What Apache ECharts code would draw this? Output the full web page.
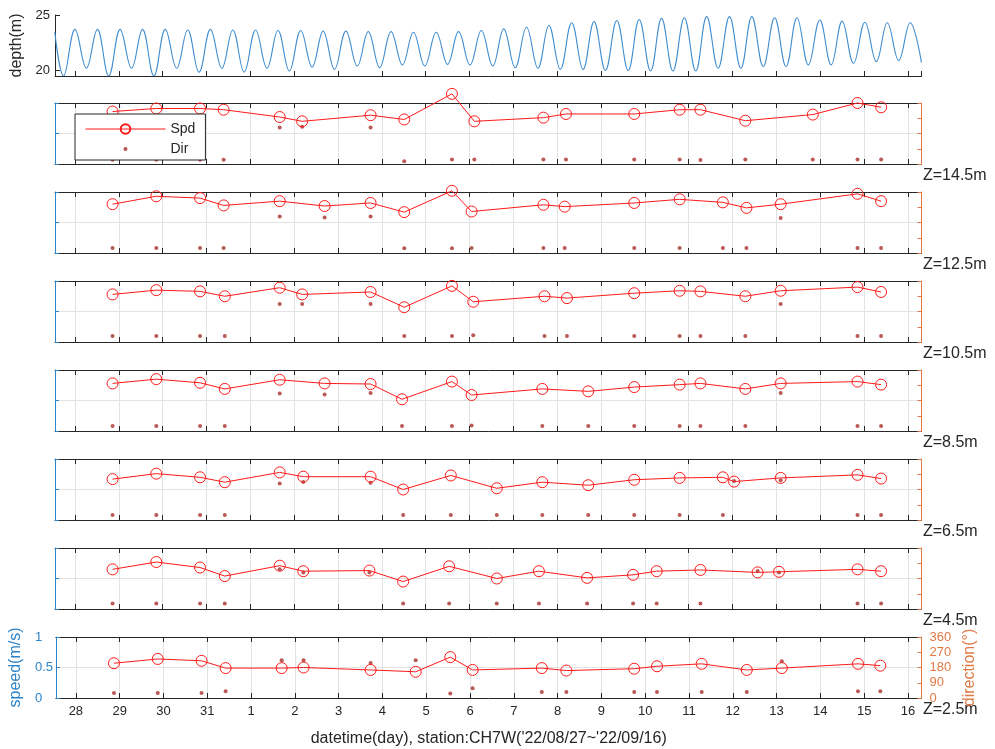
<!DOCTYPE html>
<html><head><meta charset="utf-8">
<script src="https://cdn.jsdelivr.net/npm/echarts@6/dist/echarts.min.js"></script>
<style>html,body{margin:0;padding:0;background:#fff}#c{width:995px;height:749px}</style>
</head><body><div id="c"></div>
<script>
// ---- time helpers: values are "day of August 2022" (32 = Sep 1) ----
const BASE = new Date(2022, 7, 1).getTime();
const DAY = 86400000;
const toTs = d => BASE + (d - 1) * DAY;
const X_MIN = 27.544, X_MAX = 47.31;

// ---- depth (tidal extremes) ----
const depthTime = [27.54, 27.74, 28.00, 28.26, 28.51, 28.77, 29.03, 29.29, 29.54, 29.80, 30.06, 30.32, 30.57, 30.83, 31.09, 31.35, 31.60, 31.86, 32.12, 32.38, 32.63, 32.89, 33.15, 33.41, 33.66, 33.92, 34.18, 34.44, 34.69, 34.95, 35.21, 35.47, 35.72, 35.98, 36.24, 36.50, 36.75, 37.01, 37.27, 37.53, 37.78, 38.04, 38.30, 38.56, 38.81, 39.07, 39.33, 39.59, 39.84, 40.10, 40.36, 40.62, 40.87, 41.13, 41.38, 41.64, 41.90, 42.16, 42.41, 42.67, 42.93, 43.19, 43.44, 43.70, 43.96, 44.22, 44.47, 44.73, 44.99, 45.25, 45.50, 45.76, 46.02, 46.28, 46.53, 46.79, 47.05, 47.31];
const depthVal = [23.45, 19.5, 23.7, 20.2, 23.7, 19.5, 23.7, 20.2, 23.7, 19.5, 23.7, 20.2, 23.65, 19.85, 23.7, 20.2, 23.65, 19.85, 23.65, 20.2, 23.6, 19.95, 23.6, 20.3, 23.55, 20.1, 23.55, 20.4, 23.5, 20.25, 23.5, 20.5, 23.45, 20.4, 23.45, 20.55, 23.5, 20.5, 23.6, 20.4, 23.75, 20.25, 23.9, 20.2, 24.05, 20.1, 24.3, 20.1, 24.4, 20.0, 24.5, 20.0, 24.6, 19.95, 24.7, 19.95, 24.75, 19.95, 24.85, 20.2, 24.85, 20.2, 24.85, 20.35, 24.75, 20.35, 24.75, 20.5, 24.55, 20.5, 24.45, 20.65, 24.35, 20.8, 24.3, 20.9, 24.3, 20.7];
const depthTicks = [20, 25];

// ---- current panels ----
const t145 = [28.857, 29.855, 30.853, 31.391, 32.670, 33.182, 34.743, 35.511, 36.599, 37.11, 38.685, 39.20, 40.757, 41.793, 42.267, 43.291, 44.83, 45.85, 46.39];
const spd145 = [0.86, 0.91, 0.91, 0.89, 0.77, 0.70, 0.80, 0.73, 1.15, 0.70, 0.76, 0.82, 0.82, 0.89, 0.89, 0.71, 0.81, 1.00, 0.93];
const dir145 = [25, 25, 25, 25, 216, 220, 215, 16, 26, 26, 26, 26, 26, 26, 24, 26, 26, 26, 26];

const t125 = [28.857, 29.855, 30.853, 31.391, 32.670, 33.694, 34.743, 35.511, 36.599, 37.047, 38.685, 39.171, 40.757, 41.793, 42.779, 43.317, 44.097, 45.850, 46.388];
const spd125 = [0.80, 0.93, 0.90, 0.78, 0.85, 0.77, 0.82, 0.67, 1.02, 0.68, 0.79, 0.76, 0.82, 0.88, 0.83, 0.74, 0.80, 0.97, 0.85];
const dir125 = [30, 30, 30, 30, 216, 210, 216, 28, 28, 30, 30, 30, 30, 30, 30, 30, 207, 30, 30];

const t105 = [28.857, 29.855, 30.853, 31.417, 32.670, 33.182, 34.743, 35.511, 36.599, 37.085, 38.711, 39.222, 40.757, 41.793, 42.267, 43.291, 44.097, 45.850, 46.388];
const spd105 = [0.78, 0.85, 0.83, 0.75, 0.89, 0.78, 0.82, 0.57, 0.92, 0.66, 0.75, 0.72, 0.80, 0.84, 0.83, 0.75, 0.84, 0.90, 0.82];
const dir105 = [35, 35, 35, 35, 225, 225, 225, 35, 35, 40, 35, 35, 35, 35, 35, 35, 225, 35, 35];

const t85 = [28.857, 29.855, 30.853, 31.417, 32.670, 33.694, 34.743, 35.460, 36.599, 37.047, 38.660, 39.708, 40.757, 41.793, 42.267, 43.291, 44.097, 45.850, 46.388];
const spd85 = [0.78, 0.85, 0.79, 0.69, 0.84, 0.78, 0.77, 0.52, 0.81, 0.59, 0.69, 0.65, 0.72, 0.76, 0.78, 0.69, 0.78, 0.81, 0.76];
const dir85 = [30, 30, 30, 30, 222, 215, 225, 30, 30, 32, 30, 30, 30, 30, 30, 30, 225, 30, 30];

const t65 = [28.857, 29.855, 30.853, 31.417, 32.670, 33.208, 34.743, 35.486, 36.573, 37.622, 38.660, 39.708, 40.757, 41.793, 42.779, 43.035, 44.097, 45.850, 46.388];
const spd65 = [0.67, 0.76, 0.70, 0.62, 0.78, 0.71, 0.71, 0.50, 0.73, 0.52, 0.62, 0.57, 0.66, 0.69, 0.70, 0.63, 0.69, 0.74, 0.68];
const dir65 = [30, 30, 30, 30, 216, 225, 220, 30, 30, 30, 30, 30, 30, 30, 30, 230, 235, 30, 30];

const t45 = [28.857, 29.855, 30.853, 31.417, 32.670, 33.208, 34.717, 35.486, 36.535, 37.622, 38.583, 39.682, 40.731, 41.269, 42.267, 43.572, 44.059, 45.850, 46.388];
const spd45 = [0.65, 0.77, 0.68, 0.54, 0.71, 0.62, 0.63, 0.45, 0.70, 0.50, 0.62, 0.51, 0.56, 0.62, 0.64, 0.60, 0.61, 0.65, 0.62];
const dir45 = [32, 32, 32, 32, 235, 215, 215, 32, 32, 32, 32, 32, 32, 32, 32, 225, 215, 32, 32];

const t25 = [28.87, 29.87, 30.87, 31.42, 32.70, 33.20, 34.73, 35.76, 36.55, 37.06, 38.64, 39.20, 40.75, 41.27, 42.29, 43.32, 44.12, 45.86, 46.37];
const spd25 = [0.57, 0.64, 0.61, 0.49, 0.49, 0.50, 0.46, 0.43, 0.67, 0.46, 0.49, 0.45, 0.48, 0.52, 0.56, 0.46, 0.49, 0.56, 0.53];
const dir25 = [30, 30, 30, 40, 223, 223, 206, 223, 27, 57, 36, 36, 36, 36, 36, 36, 217, 40, 40];

const panelNames = ['Z=14.5m', 'Z=12.5m', 'Z=10.5m', 'Z=8.5m', 'Z=6.5m', 'Z=4.5m', 'Z=2.5m'];
const panels = [
  {t: t145, spd: spd145, dir: dir145},
  {t: t125, spd: spd125, dir: dir125},
  {t: t105, spd: spd105, dir: dir105},
  {t: t85, spd: spd85, dir: dir85},
  {t: t65, spd: spd65, dir: dir65},
  {t: t45, spd: spd45, dir: dir45},
  {t: t25, spd: spd25, dir: dir25}
];
const speedLabel = 'speed(m/s)';
const dirLabel = 'direction(°)';
const xTitle = "datetime(day), station:CH7W('22/08/27~'22/09/16)";

// ---- styling ----
const FONT = 'Liberation Sans, Arial, Helvetica, sans-serif';
const C_AX = '#262626', C_BLUE = '#2d84c8', C_ORG = '#e07a45', C_RED = '#ff1a1a', C_DIR = '#a8302a', C_GRID = '#e2e2e2', C_DEPTH = '#3d8ccf';
const LEFT = 55, RIGHT = 995 - 921.5;
const PTOP = [103, 192, 281, 370, 459, 548, 637], PH = 61;

const grid = [{left: LEFT, right: RIGHT, top: 15, height: 61}];
PTOP.forEach(t => grid.push({left: LEFT, right: RIGHT, top: t, height: PH}));

function timeAxis(gridIndex, position, extra) {
  return Object.assign({
    type: 'time', gridIndex, position,
    min: toTs(X_MIN), max: toTs(X_MAX),
    minInterval: DAY, maxInterval: DAY,
    axisLine: {show: true, onZero: false, lineStyle: {color: C_AX, width: 1}},
    axisTick: {show: true, inside: true, length: 5, lineStyle: {color: C_AX}},
    axisLabel: {show: false},
    splitLine: {show: false},
    z: 0
  }, extra || {});
}

const xAxis = [timeAxis(0, 'bottom')];
const yAxis = [{
  type: 'value', gridIndex: 0, position: 'left', min: 19.5, max: 25,
  axisLine: {show: true, lineStyle: {color: C_AX}},
  axisTick: {show: true, inside: true, length: 5, customValues: depthTicks, lineStyle: {color: C_AX}},
  axisLabel: {show: true, customValues: depthTicks, color: C_AX, fontSize: 13, margin: 5, fontFamily: FONT},
  splitLine: {show: false},
  name: 'depth(m)', nameLocation: 'middle', nameGap: 27, nameRotate: 90,
  nameTextStyle: {color: C_AX, fontSize: 16, fontFamily: FONT}
}];

const series = [{
  type: 'line', name: 'depth', xAxisIndex: 0, yAxisIndex: 0,
  data: depthTime.map((d, i) => [toTs(d), depthVal[i]]),
  showSymbol: false, smooth: 0.4, lineStyle: {color: C_DEPTH, width: 1.1},
  itemStyle: {color: C_DEPTH}, animation: false, silent: true
}];

panels.forEach((p, k) => {
  const last = k === panels.length - 1;
  const g = k + 1;
  xAxis.push(timeAxis(g, 'bottom', {
    splitLine: {show: true, showMinLine: false, showMaxLine: false, lineStyle: {color: C_GRID, width: 1}},
    axisLabel: last ? {
      show: true, color: C_AX, fontSize: 13, margin: 7, fontFamily: FONT,
      formatter: v => { const d = new Date(v); return (d.getHours() === 0 && d.getMinutes() === 0) ? String(d.getDate()) : ''; }
    } : {show: false},
    name: last ? xTitle : '', nameLocation: 'middle', nameGap: 33,
    nameTextStyle: {color: C_AX, fontSize: 16, fontFamily: FONT}
  }));
  xAxis.push(timeAxis(g, 'top'));
  yAxis.push({
    type: 'value', gridIndex: g, position: 'left', min: 0, max: 1, interval: 0.5, z: 1,
    axisLine: {show: true, lineStyle: {color: C_BLUE}},
    axisTick: {show: true, inside: true, length: 4, lineStyle: {color: C_BLUE}},
    axisLabel: {show: last, color: C_BLUE, fontSize: 13, align: 'left', margin: 21, fontFamily: FONT},
    splitLine: {show: true, showMinLine: false, showMaxLine: false, lineStyle: {color: C_GRID}},
    name: last ? speedLabel : '', nameLocation: 'middle', nameGap: 27, nameRotate: 90,
    nameTextStyle: {color: C_BLUE, fontSize: 16, fontFamily: FONT}
  });
  yAxis.push({
    type: 'value', gridIndex: g, position: 'right', min: 0, max: 360, interval: 90, z: 1,
    axisLine: {show: true, lineStyle: {color: C_ORG}},
    axisTick: {show: true, inside: true, length: 4, lineStyle: {color: C_ORG}},
    axisLabel: {show: last, color: C_ORG, fontSize: 13, margin: 8, fontFamily: FONT},
    splitLine: {show: false},
    name: last ? dirLabel : '', nameLocation: 'middle', nameGap: 39, nameRotate: 90,
    nameTextStyle: {color: C_ORG, fontSize: 16, fontFamily: FONT}
  });
  series.push({
    type: 'line', name: 'Spd', xAxisIndex: 1 + 2 * k, yAxisIndex: 1 + 2 * k,
    data: p.t.map((d, i) => [toTs(d), p.spd[i]]),
    symbol: 'circle', symbolSize: 11, showAllSymbol: true, clip: false,
    lineStyle: {color: C_RED, width: 1},
    itemStyle: {color: 'rgba(255,255,255,0)', borderColor: C_RED, borderWidth: 1},
    animation: false
  });
  series.push({
    type: 'scatter', name: 'Dir', xAxisIndex: 1 + 2 * k, yAxisIndex: 2 + 2 * k,
    data: p.t.map((d, i) => [toTs(d), p.dir[i]]),
    symbol: 'circle', symbolSize: 4, itemStyle: {color: C_DIR}, animation: false
  });
});

const graphic = panelNames.map((n, k) => ({
  type: 'text', left: 923, top: PTOP[k] + PH + 4,
  style: {text: n, fill: C_AX, font: '16px ' + FONT}
}));

const option = {
  backgroundColor: '#fff',
  animation: false,
  textStyle: {fontFamily: FONT},
  grid, xAxis, yAxis, series, graphic,
  legend: {
    data: [
      {name: 'Spd'},
      {name: 'Dir', icon: 'path://M0,0L0.01,0M80,12L80.01,12M38,6a2,2 0 1,0 4,0a2,2 0 1,0 -4,0'}
    ],
    orient: 'vertical', left: 75, top: 114, itemWidth: 80, itemHeight: 12, itemGap: 6,
    padding: [8, 10, 4, 10], backgroundColor: '#fff', borderColor: C_AX, borderWidth: 1, borderRadius: 0,
    lineStyle: {width: 1},
    textStyle: {fontSize: 14, color: C_AX, fontFamily: FONT}, z: 5, selectedMode: false
  }
};

const chart = echarts.init(document.getElementById('c'), null, {renderer: 'canvas'});
chart.setOption(option);
</script>
</body></html>
